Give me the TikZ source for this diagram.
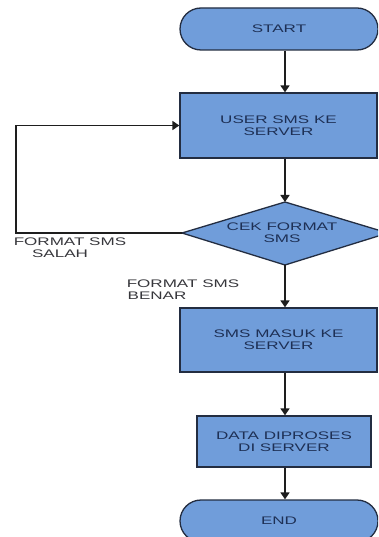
\documentclass[tikz,border=0pt]{standalone}
\usepackage{fontspec}
\setmainfont{Liberation Sans}[FakeStretch=1.55]
\usetikzlibrary{arrows.meta,shapes.misc}
\definecolor{boxfill}{RGB}{112,157,218}
\definecolor{boxline}{RGB}{35,45,65}
\definecolor{boxtext}{RGB}{30,48,85}
\definecolor{labtext}{RGB}{55,55,60}
\definecolor{arrline}{RGB}{30,30,30}
\tikzset{
  shapebox/.style={draw=boxline, line width=1.3pt, fill=boxfill, text=boxtext, align=center, inner sep=0pt, font=\fontsize{11}{12}\selectfont},
  procbox/.style={shapebox, rectangle},
  termbox/.style={shapebox, rounded rectangle},
  lab/.style={text=labtext, align=center, inner sep=0pt, font=\fontsize{11}{12}\selectfont},
  arr/.style={draw=arrline, line width=1.6pt, -{Triangle[width=9pt,length=7pt]}},
  flowline/.style={draw=arrline, line width=1.3pt}
}
\begin{document}
\begin{tikzpicture}[x=1pt,y=-1pt]
\useasboundingbox (0,0) rectangle (378,537);
\clip (0,0) rectangle (378,537);
\fill[white] (0,0) rectangle (378,537);
\coordinate (spine) at (285,0);
\node[termbox, minimum width=198pt, minimum height=42pt] (start) at (279,29) {START};
\node[procbox, minimum width=197pt, minimum height=65pt] (user) at (278.5,125.5) {USER SMS KE\\SERVER};
\coordinate (dl) at (182,233);
\coordinate (dt) at (285,202);
\coordinate (db) at (285,265);
\coordinate (dr) at (388,233);
\filldraw[draw=boxline, line width=1.3pt, fill=boxfill] (dl) -- (dt) -- (dr) -- (db) -- cycle;
\node[lab, text=boxtext] (cek) at (282,233) {CEK FORMAT\\SMS};
\node[procbox, minimum width=197pt, minimum height=64pt] (sms) at (278.5,340) {SMS MASUK KE\\SERVER};
\node[procbox, minimum width=174pt, minimum height=51pt] (data) at (284,441.5) {DATA DIPROSES\\DI SERVER};
\node[termbox, minimum width=198pt, minimum height=42pt] (end) at (279,521) {END};
\draw[arr] (start.south -| spine) -- (user.north -| spine);
\draw[arr] (user.south -| spine) -- (dt);
\draw[arr] (db) -- (sms.north -| spine);
\draw[arr] (sms.south -| spine) -- (data.north -| spine);
\draw[arr] (data.south -| spine) -- (end.north -| spine);
\coordinate (loop) at (16,233);
\draw[flowline] (dl) -- (loop) -- (loop |- user.west);
\draw[arr] (loop |- user.west) -- (user.west);
\node[lab] (salah) at (70,248) {FORMAT SMS\\SALAH\hspace*{20pt}};
\node[lab] (benar) at (183,290) {FORMAT SMS\\BENAR\hspace*{52pt}};
\end{tikzpicture}
\end{document}
